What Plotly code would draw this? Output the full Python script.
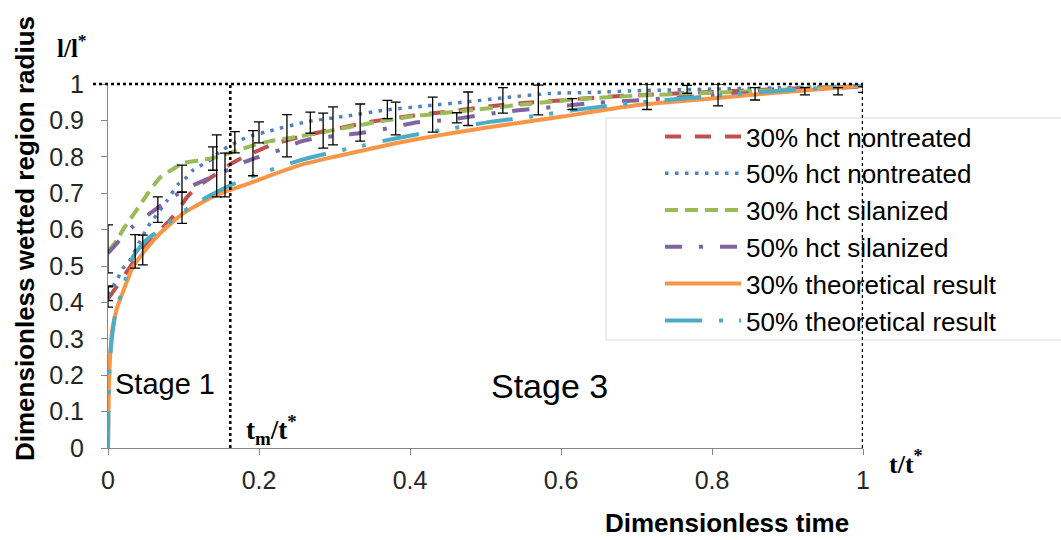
import plotly.graph_objects as go

# ---- data -------------------------------------------------------------
T_M = 0.162  # t_m / t*

red_t = [0, 0.012, 0.03, 0.05, 0.07, 0.09, 0.105, 0.12, 0.14, 0.16, 0.18, 0.2, 0.22,
         0.26, 0.3, 0.35, 0.4, 0.45, 0.5, 0.55, 0.6, 0.66, 0.72, 0.8, 0.9, 1.0]
red_y = [0.41, 0.445, 0.50, 0.56, 0.60, 0.645, 0.69, 0.72, 0.748, 0.777, 0.80, 0.818, 0.835,
         0.858, 0.876, 0.897, 0.912, 0.924, 0.937, 0.948, 0.955, 0.965, 0.971, 0.978, 0.987, 0.995]

blue_t = [0, 0.013, 0.02, 0.029, 0.042, 0.056, 0.066, 0.078, 0.093, 0.105, 0.113, 0.135, 0.148,
          0.159, 0.171, 0.184, 0.21, 0.263, 0.316, 0.37, 0.422, 0.475, 0.528, 0.585, 0.642,
          0.709, 0.8, 0.9, 1.0]
blue_y = [0.42, 0.467, 0.494, 0.516, 0.567, 0.618, 0.645, 0.679, 0.725, 0.745, 0.764, 0.79, 0.814,
          0.828, 0.841, 0.854, 0.869, 0.896, 0.912, 0.929, 0.94, 0.951, 0.963, 0.974, 0.977,
          0.982, 0.986, 0.99, 0.995]

green_t = [0, 0.012, 0.02, 0.036, 0.053, 0.07, 0.085, 0.1, 0.12, 0.14, 0.165, 0.19, 0.215, 0.245,
           0.28, 0.32, 0.36, 0.4, 0.48, 0.56, 0.62, 0.68, 0.75, 0.85, 0.93, 1.0]
green_y = [0.54, 0.571, 0.60, 0.648, 0.70, 0.745, 0.765, 0.783, 0.79, 0.797, 0.813, 0.83, 0.843, 0.853,
           0.866, 0.882, 0.897, 0.91, 0.928, 0.946, 0.958, 0.966, 0.972, 0.98, 0.988, 0.995]

purple_t = [0, 0.012, 0.032, 0.056, 0.071, 0.09, 0.113, 0.135, 0.16, 0.181, 0.2, 0.228, 0.254,
            0.277, 0.3, 0.337, 0.373, 0.41, 0.449, 0.486, 0.522, 0.559, 0.596, 0.633, 0.706,
            0.8, 0.9, 1.0]
purple_y = [0.535, 0.563, 0.607, 0.645, 0.668, 0.695, 0.722, 0.742, 0.765, 0.786, 0.80, 0.819, 0.841,
            0.852, 0.857, 0.866, 0.879, 0.895, 0.901, 0.912, 0.923, 0.931, 0.938, 0.946, 0.956,
            0.968, 0.982, 0.993]

orange_t = [0, 0.001, 0.003, 0.006, 0.012, 0.02, 0.033, 0.05, 0.069, 0.1, 0.144, 0.188, 0.254,
            0.3, 0.4, 0.5, 0.6, 0.695, 0.8, 0.88, 0.95, 1.0]
orange_y = [0, 0.15, 0.26, 0.33, 0.385, 0.43, 0.497, 0.545, 0.59, 0.645, 0.695, 0.728, 0.777,
            0.80, 0.845, 0.88, 0.91, 0.94, 0.96, 0.975, 0.987, 0.995]

cyan_t = [0, 0.0005, 0.002, 0.005, 0.01, 0.02, 0.033, 0.05, 0.069, 0.1, 0.132, 0.155, 0.178, 0.21,
          0.254, 0.298, 0.34, 0.377, 0.426, 0.47, 0.506, 0.555, 0.62, 0.67, 0.75, 0.83, 0.9,
          0.95, 1.0]
cyan_y = [0, 0.1, 0.22, 0.3, 0.37, 0.44, 0.525, 0.57, 0.60, 0.65, 0.69, 0.715, 0.736, 0.76,
          0.79, 0.813, 0.832, 0.849, 0.868, 0.883, 0.896, 0.909, 0.929, 0.942, 0.958, 0.972,
          0.983, 0.99, 1.0]

# measured points carrying error bars: time, mean, half-width
red_err_t = [0.0, 0.036, 0.098, 0.192, 0.285, 0.334, 0.43, 0.523, 0.714, 0.923]
red_err_y = [0.415, 0.54, 0.66, 0.81, 0.872, 0.894, 0.916, 0.955, 0.965, 0.98]
red_err_e = [0.028, 0.046, 0.043, 0.062, 0.048, 0.051, 0.048, 0.035, 0.035, 0.01]

blue_err_t = [0.0, 0.046, 0.098, 0.139, 0.168, 0.2, 0.268, 0.37, 0.767, 0.967]
blue_err_y = [0.425, 0.544, 0.74, 0.795, 0.84, 0.867, 0.894, 0.93, 0.985, 0.98]
blue_err_e = [0.02, 0.041, 0.037, 0.032, 0.029, 0.029, 0.029, 0.025, 0.011, 0.01]

green_err_t = [0.0, 0.144, 0.237, 0.298, 0.381, 0.477, 0.57, 0.808, 1.0]
green_err_y = [0.547, 0.775, 0.858, 0.885, 0.905, 0.932, 0.956, 0.97, 0.985]
green_err_e = [0.066, 0.085, 0.058, 0.052, 0.045, 0.046, 0.041, 0.03, 0.008]

purple_err_t = [0.066, 0.155, 0.462, 0.615, 0.857]
purple_err_y = [0.655, 0.75, 0.907, 0.945, 0.973]
purple_err_e = [0.035, 0.06, 0.014, 0.015, 0.017]

x_ticks = [0, 0.2, 0.4, 0.6, 0.8, 1]
y_ticks = [0, 0.1, 0.2, 0.3, 0.4, 0.5, 0.6, 0.7, 0.8, 0.9, 1]

# ---- figure geometry --------------------------------------------------
W, H = 1061, 540
L, R, T, B = 108, 863, 84, 448


def px_x(p):
    return (p - L) / (R - L)


def px_y(p):
    return (B - p) / (B - T)


SANS = "Liberation Sans, Arial, sans-serif"
SERIF = "Liberation Serif, Times New Roman, serif"
AXIS_GREY = "#868686"

fig = go.Figure()

series = [
    ("30% hct nontreated", red_t, red_y, "#C0504D", 4, "16px,14px"),
    ("50% hct nontreated", blue_t, blue_y, "#4F81BD", 3.5, "3.5px,6.5px"),
    ("30% hct silanized", green_t, green_y, "#9BBB59", 4, "13px,7px"),
    ("50% hct silanized", purple_t, purple_y, "#8064A2", 4, "17px,17px,4px,17px"),
    ("30% theoretical result", orange_t, orange_y, "#F79646", 4, "solid"),
    ("50% theoretical result", cyan_t, cyan_y, "#4BACC6", 4, "37px,17px,4px,16px,4px,17px"),
]

for i, (name, xs, ys, col, w, dash) in enumerate(series):
    fig.add_trace(go.Scatter(
        x=xs, y=ys, mode="lines", name=name,
        line=dict(color=col, width=w, dash=dash, shape="spline", smoothing=0.6),
        legendgroup=name, legendrank=i + 1, hoverinfo="skip",
    ))

# error bars live on an overlaid copy of the y axis that carries the tick labels
for xs, ys, es in [(red_err_t, red_err_y, red_err_e),
                   (blue_err_t, blue_err_y, blue_err_e),
                   (green_err_t, green_err_y, green_err_e),
                   (purple_err_t, purple_err_y, purple_err_e)]:
    fig.add_trace(go.Scatter(
        x=xs, y=ys, yaxis="y2", mode="markers", showlegend=False, hoverinfo="skip",
        marker=dict(size=1, color="rgba(0,0,0,0)"),
        error_y=dict(type="data", array=es, color="black", thickness=1.3, width=5),
    ))

# dotted guide lines
dot = dict(color="black", width=2.5, dash="dot")
shapes = [
    dict(type="line", xref="paper", yref="paper", x0=px_x(93), x1=1, y0=1, y1=1, line=dot),
    dict(type="line", xref="x", yref="paper", x0=T_M, x1=T_M, y0=0, y1=1, line=dot),
    dict(type="line", xref="x", yref="paper", x0=1, x1=1, y0=0, y1=1, line=dot),
    # legend frame
    dict(type="rect", xref="paper", yref="paper", x0=px_x(606), x1=px_x(1075),
         y0=px_y(340), y1=px_y(118), line=dict(color="#d9d9d9", width=1),
         fillcolor="white", layer="below"),
]


def label(text, cx, cy, family, size, angle=0):
    return dict(text=text, x=px_x(cx), y=px_y(cy), xref="paper", yref="paper",
                xanchor="center", yanchor="middle", showarrow=False, textangle=angle,
                font=dict(family=family, size=size, color="black"))


annotations = [
    label("<b>l/l<sup>*</sup></b>", 72, 46, SERIF, 25),
    label("<b>Dimensionless wetted region radius</b>", 25, 239, SANS, 26, -90),
    label("<b>t/t<sup>*</sup></b>", 906, 462, SERIF, 26),
    label("<b>Dimensionless time</b>", 727, 523, SANS, 26),
    label("Stage 1", 165, 384, SANS, 29),
    label("Stage 3", 549, 386, SANS, 34),
    label("<b>t<sub>m</sub>/t<sup>*</sup></b>", 271, 430, SERIF, 27),
]

fig.update_layout(
    width=W, height=H,
    margin=dict(l=L, r=W - R, t=T, b=H - B, pad=0),
    paper_bgcolor="white", plot_bgcolor="white",
    showlegend=True,
    legend=dict(
        x=px_x(660), y=px_y(113), xanchor="left", yanchor="top",
        bgcolor="rgba(0,0,0,0)", borderwidth=0,
        font=dict(family=SANS, size=26, color="black"),
        itemwidth=76, tracegroupgap=8, traceorder="normal",
    ),
    shapes=shapes, annotations=annotations,
    xaxis=dict(
        range=[0, 1], tickvals=x_ticks, showgrid=False, zeroline=False,
        showline=True, linecolor=AXIS_GREY, linewidth=1,
        ticks="outside", ticklen=6, tickcolor=AXIS_GREY, ticklabelstandoff=4,
        tickfont=dict(family=SANS, size=25, color="#262626"),
    ),
    # visible axis line and tick marks
    yaxis=dict(
        range=[0, 1], tickvals=y_ticks, showgrid=False, zeroline=False,
        showline=True, linecolor=AXIS_GREY, linewidth=1,
        ticks="outside", ticklen=6, tickcolor=AXIS_GREY, showticklabels=False,
    ),
    # tick labels, set a little further out from the axis
    yaxis2=dict(
        overlaying="y", side="left", anchor="x", range=[0, 1], tickvals=y_ticks,
        showgrid=False, zeroline=False, showline=False,
        ticks="outside", ticklen=18, tickcolor="rgba(0,0,0,0)",
        tickfont=dict(family=SANS, size=25, color="#262626"),
    ),
)

fig.write_html("out.html")
